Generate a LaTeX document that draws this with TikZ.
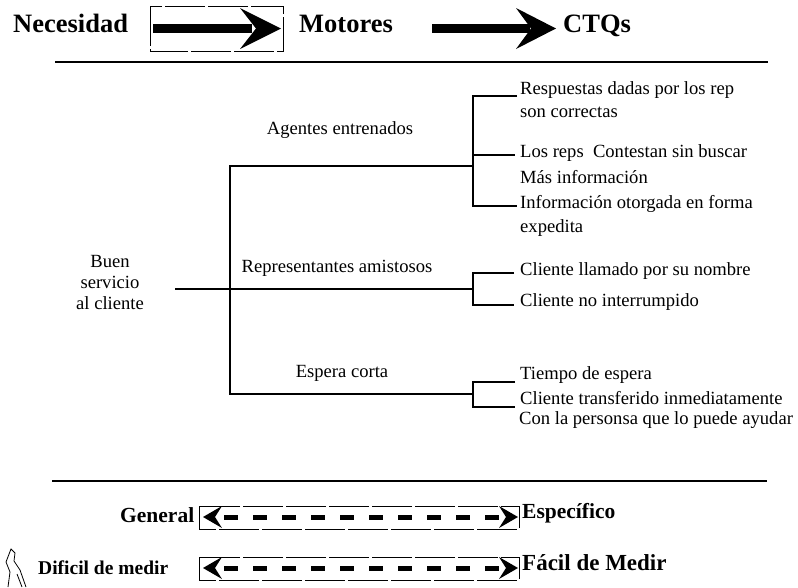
\documentclass[tikz,border=0pt]{standalone}
\usepackage{fontspec}
\setmainfont{Liberation Serif}
\begin{document}
\begin{tikzpicture}[x=1pt,y=-1pt]
\tikzset{
  tree/.style={line width=1.3pt},
  rule/.style={line width=2.4pt},
  leaf/.style={anchor=west, inner sep=0pt, font=\fontsize{18.6}{22}\selectfont},
  mid/.style={inner sep=0pt, font=\fontsize{18.6}{22}\selectfont},
  title/.style={anchor=base west, inner sep=0pt, font=\fontsize{26.5}{30}\selectfont\bfseries},
  scale/.style={anchor=base west, inner sep=0pt, font=\fontsize{#1}{24}\selectfont\bfseries},
  frame/.style={line width=0.9pt, dash pattern=on 40pt off 3pt},
  dashline/.style={line width=5pt, dash pattern=on 14pt off 15pt},
}
\useasboundingbox (0,0) rectangle (798,587);

% ---- title row ----
\node[title] (nec) at (13,32) {Necesidad};
\node[title] (mot) at (299,32) {Motores};
\node[title] (ctq) at (563,32) {CTQs};
\draw[frame] (150,6) rectangle (283,51);
\fill (153,24) rectangle (252,33);
\fill (240,8) -- (281,28.5) -- (240,49) -- (256,28.5) -- cycle;
\fill (432,24) rectangle (530,33);
\fill (516,8) -- (556,28.5) -- (516,49) -- (531,28.5) -- cycle;
\draw[rule] (55,62) -- (768,62);

% ---- tree ----
\node[mid, align=center] (root) at (110,282) {Buen\\[-1pt]servicio\\[-1pt]al cliente};
\node[mid] (ag) at (340,130) {Agentes entrenados};
\node[mid] (rep) at (337,268) {Representantes amistosos};
\node[mid] (esp) at (342,373) {Espera corta};

\coordinate (r0) at (175,289);
\coordinate (rj) at (230,289);
\coordinate (t1) at (230,166);
\coordinate (t3) at (230,394);
\coordinate (b1) at (473,166);
\coordinate (b2) at (473,289);
\coordinate (b3) at (473,394);
\draw[tree] (r0) -- (b2);
\draw[tree] (b1) -- (t1) -- (t3) -- (b3);

% leaves
\node[leaf] (l1a) at (520,90) {Respuestas dadas por los rep};
\node[leaf] (l1b) at (520,112) {son correctas};
\node[leaf] (l2a) at (520,153) {Los reps~~Contestan sin buscar};
\node[leaf] (l2b) at (520,177) {Más información};
\node[leaf] (l3a) at (520,204) {Información otorgada en forma};
\node[leaf] (l3b) at (520,228) {expedita};
\node[leaf] (l4) at (520,271) {Cliente llamado por su nombre};
\node[leaf] (l5) at (520,302) {Cliente no interrumpido};
\node[leaf] (l6) at (520,375) {Tiempo de espera};
\node[leaf] (l7a) at (520,398) {Cliente transferido inmediatamente};
\node[leaf] (l7b) at (519,420) {Con la personsa que lo puede ayudar};

\coordinate (k1) at (473,96);  \coordinate (e1) at (517,96);
\coordinate (k2) at (473,155); \coordinate (e2) at (515,155);
\coordinate (k3) at (473,206); \coordinate (e3) at (517,206);
\draw[tree] (e1) -- (k1) -- (k3) -- (e3);
\draw[tree] (k2) -- (e2);
\coordinate (k4) at (473,273); \coordinate (e4) at (514,273);
\coordinate (k5) at (473,305); \coordinate (e5) at (514,305);
\draw[tree] (e4) -- (k4) -- (k5) -- (e5);
\coordinate (k6) at (473,382); \coordinate (e6) at (515,382);
\coordinate (k7) at (473,407); \coordinate (e7) at (515,407);
\draw[tree] (e6) -- (k6) -- (k7) -- (e7);

\draw[rule] (52,481) -- (767,481);

% ---- scale arrows ----
\node[scale=21.5] (gen) at (120,522) {General};
\node[scale=21.5] (espc) at (522,518) {Específico};
\node[scale=19.5] (dif) at (38,574) {Dificil de medir};
\node[scale=23] (fac) at (522,570) {Fácil de Medir};

\draw[frame] (199,506) rectangle (519,529);
\draw[dashline] (224,517) -- (503,517);
\fill (222,506) -- (203,517) -- (222,528) -- (215,517) -- cycle;
\fill (499,506) -- (518,517) -- (499,528) -- (506,517) -- cycle;

\draw[frame] (199,557) rectangle (519,580);
\draw[dashline] (224,568) -- (503,568);
\fill (222,557) -- (203,568) -- (222,579) -- (215,568) -- cycle;
\fill (499,557) -- (518,568) -- (499,579) -- (506,568) -- cycle;

% scan fragment at lower left
\draw[line width=0.8pt] (8,587) -- (10,572) -- (6,562) -- (11,549) -- (15,553) -- (14,561) -- (20,570) -- (26,587);
\draw[line width=0.8pt] (17,574) -- (22,587);
\end{tikzpicture}
\end{document}
